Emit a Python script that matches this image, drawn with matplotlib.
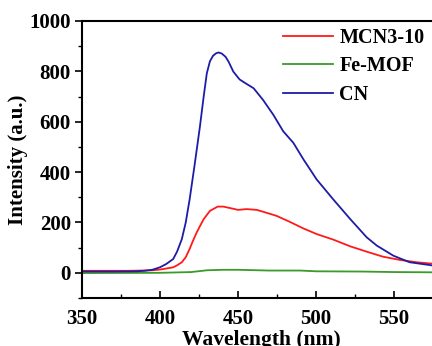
import matplotlib
matplotlib.use("Agg")
import matplotlib.pyplot as plt
from matplotlib.ticker import MultipleLocator

plt.rcParams['font.family'] = ['Liberation Serif', 'DejaVu Serif']
plt.rcParams['font.weight'] = 'bold'

wl_cn = [350, 370, 385, 390, 395, 400, 404, 408.5, 411, 414, 416.5, 419, 422, 425.6, 428, 430, 432, 434, 436, 437.5, 439.5, 442,
         444, 447, 451, 455, 460, 466, 472.6, 479, 485.5, 492, 500.4, 511, 522, 532.5, 539, 549.6, 560, 575]
cn = [5, 5, 6, 8, 12, 22, 35, 55, 85, 134, 200, 292, 420, 581, 700, 792, 840, 862, 872, 875, 871, 858,
      838, 799, 768, 752, 733, 687, 628, 562, 516, 450, 371, 292, 213, 141, 108, 68, 42, 29]

wl_mcn = [350, 380, 395, 400, 404, 408.5, 411, 414, 416.5, 419, 421, 423.5, 426, 428, 432, 437, 440.6, 445, 450, 455.5, 462,
          468, 474.8, 483, 492, 500.4, 511, 522, 532.5, 543, 554, 564.5, 575]
mcn = [8, 8, 10, 13, 17, 22, 30, 42, 62, 95, 125, 160, 190, 213, 246, 263, 263, 257, 250, 253, 250,
       239, 226, 203, 176, 154, 132, 105, 84, 64, 51, 42, 36]

wl_fe = [350, 400, 420, 430, 440, 450, 470, 490, 500, 530, 550, 575]
fe = [-1, 0, 3, 10, 12, 12, 9, 9, 6, 5, 3, 2]

fig = plt.figure(figsize=(4.32, 3.46), dpi=100)
ax = fig.add_axes([82/432, 48/346, 358.8/432, 277/346])

ax.plot(wl_mcn, mcn, color='#ff1a1a', lw=1.3, label='MCN3-10')
ax.plot(wl_fe, fe, color='#3a9a2a', lw=1.3, label='Fe-MOF')
ax.plot(wl_cn, cn, color='#1c1ca8', lw=1.3, label='CN')

ax.set_xlim(350, 580)
ax.set_ylim(-100, 1000)
ax.set_xticks([350, 400, 450, 500, 550])
ax.set_yticks([0, 200, 400, 600, 800, 1000])
ax.xaxis.set_minor_locator(MultipleLocator(25))
ax.yaxis.set_minor_locator(MultipleLocator(100))
ax.tick_params(axis='x', which='both', direction='in', labelsize=15, pad=8)
ax.tick_params(axis='y', which='both', direction='out', labelsize=15, pad=3)
ax.tick_params(which='major', length=5, width=1.2)
ax.tick_params(which='minor', length=3, width=1.0)
ax.tick_params(top=False, right=False)
for s in ax.spines.values():
    s.set_linewidth(1.5)

ax.set_xlabel('Wavelength (nm)', fontsize=15.5, fontweight='bold', labelpad=1)
ax.set_ylabel('Intensity (a.u.)', fontsize=15, fontweight='bold', labelpad=1)

ax.legend(loc='upper left', bbox_to_anchor=((283 - 82) / 358.8, 1 - 7 / 277), frameon=False, fontsize=14.5,
          handlelength=2.5, handletextpad=0.3, labelspacing=0.42, borderaxespad=0, borderpad=0)

fig.savefig('out.png', dpi=100)
